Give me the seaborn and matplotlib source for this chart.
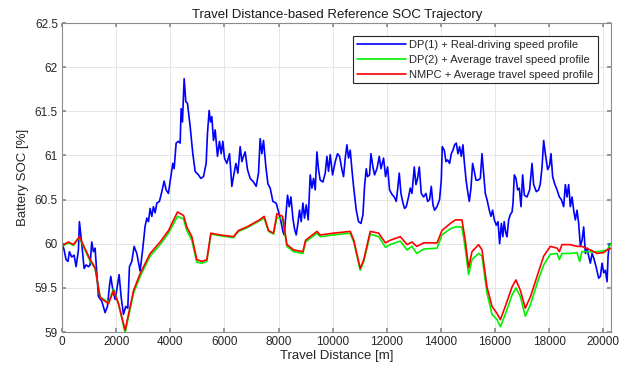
import numpy as np
import pandas as pd
import matplotlib
matplotlib.use("Agg")
import matplotlib.pyplot as plt
import seaborn as sns

# ---- data ----
blue_x = [0, 74, 148, 220, 271, 357, 444, 518, 604, 641, 727, 814, 888, 974, 1035, 1097, 1159, 1220,
          1282, 1344, 1467, 1590, 1677, 1751, 1800, 1874, 1960, 2022, 2108, 2182, 2269, 2355, 2429,
          2490, 2577, 2663, 2762, 2884, 2984, 3069, 3132, 3193, 3254, 3317, 3376, 3439, 3502, 3598,
          3687, 3772, 3846, 3931, 4000, 4093, 4142, 4216, 4302, 4364, 4401, 4450, 4512, 4573, 4635,
          4733, 4832, 4918, 5041, 5128, 5226, 5325, 5374, 5436, 5485, 5535, 5596, 5658, 5744, 5818,
          5880, 5942, 6003, 6090, 6189, 6275, 6335, 6423, 6497, 6582, 6645, 6705, 6768, 6853, 6952,
          7075, 7174, 7260, 7322, 7384, 7445, 7533, 7607, 7692, 7791, 7914, 7999, 8062, 8124, 8160,
          8210, 8284, 8333, 8395, 8457, 8531, 8591, 8654, 8716, 8777, 8838, 8901, 8961, 9023, 9097,
          9171, 9234, 9293, 9356, 9418, 9478, 9541, 9640, 9726, 9788, 9848, 9911, 9997, 10096, 10181,
          10255, 10343, 10403, 10466, 10528, 10588, 10650, 10713, 10773, 10872, 10957, 11046, 11120,
          11180, 11242, 11290, 11364, 11416, 11490, 11549, 11638, 11723, 11786, 11882, 11956, 12030,
          12104, 12191, 12277, 12351, 12400, 12462, 12525, 12599, 12659, 12721, 12806, 12869, 12932,
          13017, 13080, 13139, 13202, 13276, 13361, 13450, 13509, 13583, 13646, 13708, 13768, 13856,
          13952, 14015, 14052, 14126, 14189, 14248, 14322, 14385, 14447, 14507, 14570, 14632, 14692,
          14755, 14817, 14865, 14939, 15002, 15050, 15113, 15173, 15236, 15298, 15372, 15458, 15520,
          15580, 15643, 15705, 15790, 15853, 15912, 15976, 16049, 16112, 16172, 16235, 16290, 16340,
          16400, 16445, 16505, 16567, 16630, 16667, 16715, 16777, 16837, 16900, 16962, 17022, 17085,
          17184, 17281, 17369, 17429, 17528, 17613, 17676, 17739, 17799, 17861, 17947, 18021, 18071,
          18131, 18205, 18294, 18379, 18453, 18539, 18601, 18663, 18723, 18786, 18848, 18908, 18971,
          19033, 19093, 19156, 19218, 19278, 19341, 19403, 19463, 19526, 19588, 19648, 19736, 19832,
          19895, 19958, 20018, 20080, 20143, 20180, 20229]
blue_soc = [60.02, 59.93, 59.82, 59.80, 59.91, 59.85, 59.87, 59.74, 59.93, 60.25, 60.00, 59.72, 59.76,
            59.74, 59.76, 60.02, 59.91, 59.95, 59.67, 59.40, 59.35, 59.22, 59.29, 59.52, 59.63, 59.48,
            59.37, 59.48, 59.65, 59.40, 59.20, 59.29, 59.27, 59.74, 59.80, 59.97, 59.89, 59.69, 59.95,
            60.20, 60.29, 60.25, 60.40, 60.31, 60.42, 60.35, 60.46, 60.48, 60.59, 60.71, 60.61, 60.57,
            60.72, 60.91, 60.85, 61.14, 61.16, 61.14, 61.53, 61.38, 61.87, 61.61, 61.59, 61.33, 61.02,
            60.82, 60.78, 60.74, 60.76, 60.91, 61.25, 61.51, 61.38, 61.44, 61.17, 61.29, 60.99, 61.16,
            61.02, 61.16, 60.97, 60.91, 61.02, 60.65, 60.76, 60.91, 60.80, 61.10, 60.93, 60.99, 61.04,
            60.84, 60.74, 60.70, 60.65, 60.80, 61.19, 61.02, 61.17, 60.87, 60.68, 60.63, 60.48, 60.46,
            60.36, 60.29, 60.20, 60.14, 60.10, 60.38, 60.55, 60.42, 60.53, 60.29, 60.17, 60.10, 60.23,
            60.38, 60.25, 60.46, 60.29, 60.44, 60.27, 60.78, 60.63, 60.74, 60.61, 61.04, 60.84, 60.72,
            60.70, 60.80, 60.99, 60.82, 61.01, 60.78, 60.93, 61.02, 60.99, 60.84, 60.76, 60.97, 61.12,
            60.97, 61.06, 60.84, 60.65, 60.38, 60.25, 60.23, 60.33, 60.65, 60.85, 60.76, 60.78, 61.02,
            60.87, 60.78, 60.85, 60.99, 60.85, 60.97, 60.76, 60.87, 60.61, 60.56, 60.53, 60.48, 60.61,
            60.80, 60.57, 60.46, 60.40, 60.42, 60.53, 60.63, 60.57, 60.87, 60.67, 60.74, 60.87, 60.57,
            60.53, 60.57, 60.48, 60.50, 60.65, 60.44, 60.38, 60.42, 60.50, 60.72, 61.10, 61.06, 60.93,
            60.95, 60.91, 61.02, 61.06, 61.12, 61.14, 61.02, 61.10, 60.99, 61.12, 60.93, 60.70, 60.57,
            60.48, 60.63, 60.91, 60.82, 60.72, 60.72, 60.74, 61.02, 60.80, 60.57, 60.50, 60.38, 60.31,
            60.38, 60.27, 60.21, 60.25, 60.00, 60.23, 60.08, 60.25, 60.12, 60.08, 60.27, 60.33, 60.36,
            60.46, 60.78, 60.74, 60.61, 60.63, 60.42, 60.78, 60.55, 60.53, 60.61, 60.91, 60.67, 60.59,
            60.61, 60.68, 60.87, 61.17, 61.02, 60.84, 60.89, 61.02, 60.76, 60.68, 60.61, 60.53, 60.50,
            60.42, 60.67, 60.53, 60.67, 60.42, 60.53, 60.38, 60.27, 60.38, 60.23, 59.97, 60.04, 60.19,
            59.89, 59.95, 59.86, 59.78, 59.89, 59.84, 59.74, 59.61, 59.63, 59.78, 59.67, 59.70, 59.57,
            59.86, 60.00]

avg_x = [0, 235, 420, 640, 1040, 1220, 1405, 1715, 1900, 2085, 2330, 2640, 2885, 3255, 3625, 3935,
         4265, 4490, 4610, 4795, 4980, 5165, 5350, 5500, 5840, 6335, 6520, 6830, 7295, 7470, 7630,
         7815, 7940, 8150, 8310, 8560, 8900, 9000, 9420, 9540, 10040, 10650, 10780, 11020, 11150,
         11390, 11700, 11950, 12130, 12500, 12750, 12930, 13110, 13370, 13860, 14040, 14350, 14535,
         14780, 14900, 15025, 15150, 15395, 15520, 15705, 15890, 16075, 16200, 16380, 16630, 16775,
         16940, 17120, 17310, 17555, 17800, 18045, 18295, 18380, 18475, 18785, 19030, 19130, 19215,
         19525, 19775, 20020, 20145, 20300]
nmpc_soc = [59.98, 60.02, 59.99, 60.08, 59.82, 59.73, 59.39, 59.32, 59.47, 59.32, 59.02, 59.47, 59.66,
            59.89, 60.02, 60.15, 60.36, 60.32, 60.19, 60.08, 59.82, 59.80, 59.82, 60.12, 60.10, 60.08,
            60.15, 60.19, 60.27, 60.31, 60.15, 60.12, 60.34, 60.31, 59.99, 59.93, 59.91, 60.04, 60.14,
            60.10, 60.12, 60.14, 60.04, 59.72, 59.82, 60.14, 60.12, 60.01, 60.04, 60.08, 59.99, 60.02,
            59.97, 60.01, 60.01, 60.15, 60.23, 60.27, 60.27, 60.04, 59.73, 59.91, 59.99, 59.93, 59.51,
            59.29, 59.21, 59.14, 59.29, 59.51, 59.59, 59.47, 59.27, 59.40, 59.63, 59.86, 59.97, 59.95,
            59.91, 59.99, 59.99, 59.97, 59.97, 59.97, 59.93, 59.89, 59.90, 59.93, 59.95]
dp2_soc = [59.97, 60.01, 59.98, 60.07, 59.80, 59.72, 59.40, 59.33, 59.49, 59.32, 58.99, 59.44, 59.63,
           59.86, 59.99, 60.12, 60.31, 60.28, 60.15, 60.04, 59.79, 59.78, 59.80, 60.11, 60.09, 60.07,
           60.14, 60.18, 60.26, 60.29, 60.14, 60.11, 60.30, 60.28, 59.97, 59.91, 59.89, 60.02, 60.12,
           60.08, 60.10, 60.12, 60.02, 59.70, 59.80, 60.11, 60.08, 59.96, 59.99, 60.03, 59.93, 59.97,
           59.89, 59.94, 59.95, 60.10, 60.17, 60.19, 60.19, 59.95, 59.65, 59.82, 59.89, 59.86, 59.44,
           59.20, 59.14, 59.06, 59.20, 59.42, 59.50, 59.40, 59.18, 59.31, 59.55, 59.76, 59.88, 59.89,
           59.82, 59.89, 59.89, 59.90, 59.80, 59.91, 59.91, 59.91, 59.92, 59.93, 60.01]

labels = ["DP(1) + Real-driving speed profile",
          "DP(2) + Average travel speed profile",
          "NMPC + Average travel speed profile"]
x_ticks = [0, 2000, 4000, 6000, 8000, 10000, 12000, 14000, 16000, 18000, 20000]
y_ticks = [59, 59.5, 60, 60.5, 61, 61.5, 62, 62.5]

sns.set_theme(style="whitegrid")
plt.rcParams['font.family'] = ['Liberation Sans', 'DejaVu Sans']

fig = plt.figure(figsize=(6.27, 3.72), dpi=100)
ax = fig.add_axes([0.099, 0.1075, 0.876, 0.8305])

df_b = pd.DataFrame({"x": blue_x, "y": blue_soc})
df_g = pd.DataFrame({"x": avg_x, "y": dp2_soc})
df_r = pd.DataFrame({"x": avg_x, "y": nmpc_soc})
sns.lineplot(data=df_b, x="x", y="y", ax=ax, color="#0000ff", lw=1.2, sort=False, label=labels[0])
sns.lineplot(data=df_g, x="x", y="y", ax=ax, color="#00f000", lw=1.2, sort=False, label=labels[1])
sns.lineplot(data=df_r, x="x", y="y", ax=ax, color="#ff0000", lw=1.2, sort=False, label=labels[2])

ax.set_xlim(0, 20300)
ax.set_ylim(59, 62.5)
ax.set_xticks(x_ticks)
ax.set_yticks(y_ticks)
ax.set_yticklabels([f"{v:g}" for v in y_ticks])
ax.set_xticklabels([str(v) for v in x_ticks])
ax.grid(True, color="#e6e6e6", lw=0.7)
ax.set_facecolor("white")
for s in ax.spines.values():
    s.set_color("#8c8c8c")
    s.set_linewidth(0.8)
ax.tick_params(direction="in", length=3, color="#8c8c8c", labelsize=8.5, labelcolor="#262626",
               top=True, right=True, bottom=True, left=True, pad=3)
ax.set_xlabel("Travel Distance [m]", fontsize=9.5, color="#262626", labelpad=1)
ax.set_ylabel("Battery SOC [%]", fontsize=9.5, color="#262626", labelpad=4)
ax.set_title("Travel Distance-based Reference SOC Trajectory", fontsize=9.5, color="#1a1a1a", pad=4)

leg = ax.legend(loc="upper right", fontsize=8, frameon=True, fancybox=False, handlelength=4.4,
                borderaxespad=0.5, borderpad=0.35, labelspacing=0.42, handletextpad=0.3,
                bbox_to_anchor=(0.985, 0.975))
leg.get_frame().set_edgecolor("#262626")
leg.get_frame().set_linewidth(0.8)
leg.get_frame().set_alpha(1)

fig.savefig("out.png", dpi=100, facecolor="white")
